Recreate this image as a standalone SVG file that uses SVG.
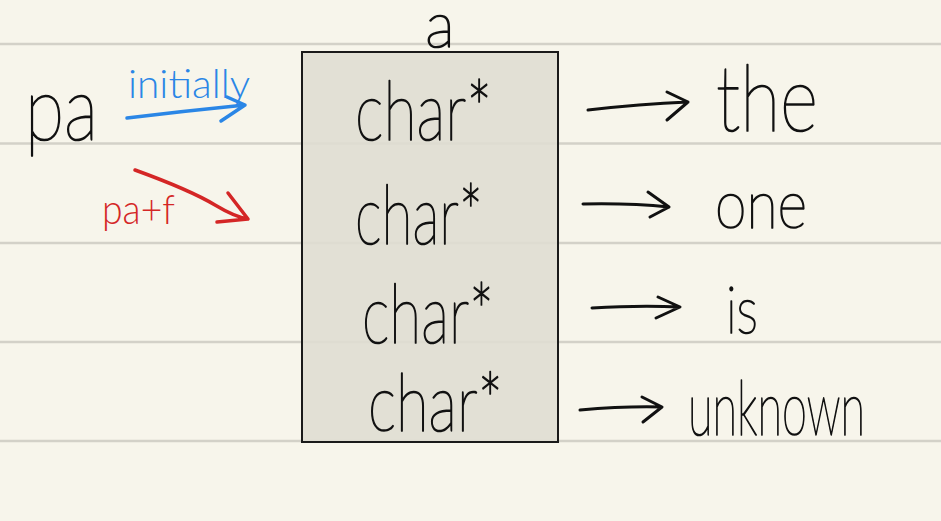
<svg xmlns="http://www.w3.org/2000/svg" width="941" height="521" viewBox="0 0 941 521">
<style>
.bg{fill:#f7f5eb}
.rule{stroke:#d3d1c8;stroke-width:2.5}
.box{fill:#dfddd1;fill-opacity:0.88;stroke:#1a1a1a;stroke-width:2}
.t{font-family:"Lato","Inter","Noto Sans",sans-serif;font-weight:300;fill:#111}
.thin{font-weight:200;stroke:#111;stroke-width:1.7;stroke-linejoin:round}
.blue{fill:#2a86e6}
.red{fill:#d42626}
.ar{fill:none;stroke:#111;stroke-width:3;stroke-linecap:round;stroke-linejoin:round}
.arb{fill:none;stroke:#2a86e6;stroke-width:3.5;stroke-linecap:round;stroke-linejoin:round}
.arr{fill:none;stroke:#d42626;stroke-width:3.5;stroke-linecap:round;stroke-linejoin:round}
</style>
<rect class="bg" x="0" y="0" width="941" height="521"/>
<g id="rules">
<line class="rule" x1="0" y1="44" x2="941" y2="44"/>
<line class="rule" x1="0" y1="143.5" x2="941" y2="143.5"/>
<line class="rule" x1="0" y1="243" x2="941" y2="243"/>
<line class="rule" x1="0" y1="342" x2="941" y2="342"/>
<line class="rule" x1="0" y1="441" x2="941" y2="441"/>
</g>
<g id="array-a">
<rect class="box" x="302" y="52" width="256" height="390"/>
<text class="t thin" x="440" y="47" font-size="62" text-anchor="middle">a</text>
<text class="t thin" x="355" y="140" font-size="82" textLength="137" lengthAdjust="spacingAndGlyphs">char*</text>
<text class="t thin" x="355" y="244" font-size="82" textLength="128" lengthAdjust="spacingAndGlyphs">char*</text>
<text class="t thin" x="362" y="343" font-size="82" textLength="132" lengthAdjust="spacingAndGlyphs">char*</text>
<text class="t thin" x="368" y="431" font-size="80" textLength="135" lengthAdjust="spacingAndGlyphs">char*</text>
</g>
<g id="pointer-pa">
<text class="t thin" x="25" y="140" font-size="90" textLength="73" lengthAdjust="spacingAndGlyphs">pa</text>
</g>
<g id="label-initially">
<text class="t blue" x="128" y="98" font-size="40" textLength="122" lengthAdjust="spacingAndGlyphs">initially</text>
</g>
<g id="label-pa-plus-f">
<text class="t red" x="102" y="224" font-size="42" textLength="73" lengthAdjust="spacingAndGlyphs">pa+f</text>
</g>
<g id="str-the"><text class="t thin" x="716" y="131" font-size="92" textLength="102" lengthAdjust="spacingAndGlyphs">the</text></g>
<g id="str-one"><text class="t thin" x="715" y="228" font-size="68" textLength="92" lengthAdjust="spacingAndGlyphs">one</text></g>
<g id="str-is"><text class="t thin" x="726" y="333" font-size="66" textLength="32" lengthAdjust="spacingAndGlyphs">is</text></g>
<g id="str-unknown"><text class="t thin" x="688" y="435" font-size="76" textLength="177" lengthAdjust="spacingAndGlyphs">unknown</text></g>
<g id="connectors">
<path class="arb" d="M127,118 Q185,111 245,105 M227,97 L245,105 L221,121"/>
<path class="arr" d="M135,170 Q190,190 215,205 Q235,217 248,219 M228,193 L248,219 L217,222"/>
<path class="ar" d="M588,110 Q640,104 688,102 M667,92 L688,102 L667,120"/>
<path class="ar" d="M583,204 Q630,203 669,207 M648,192 L669,207 L650,217"/>
<path class="ar" d="M592,308 Q640,305 680,307 M658,297 L680,307 L656,318"/>
<path class="ar" d="M580,410 Q625,406 662,407 M642,397 L662,407 L643,422"/>
</g>
</svg>
